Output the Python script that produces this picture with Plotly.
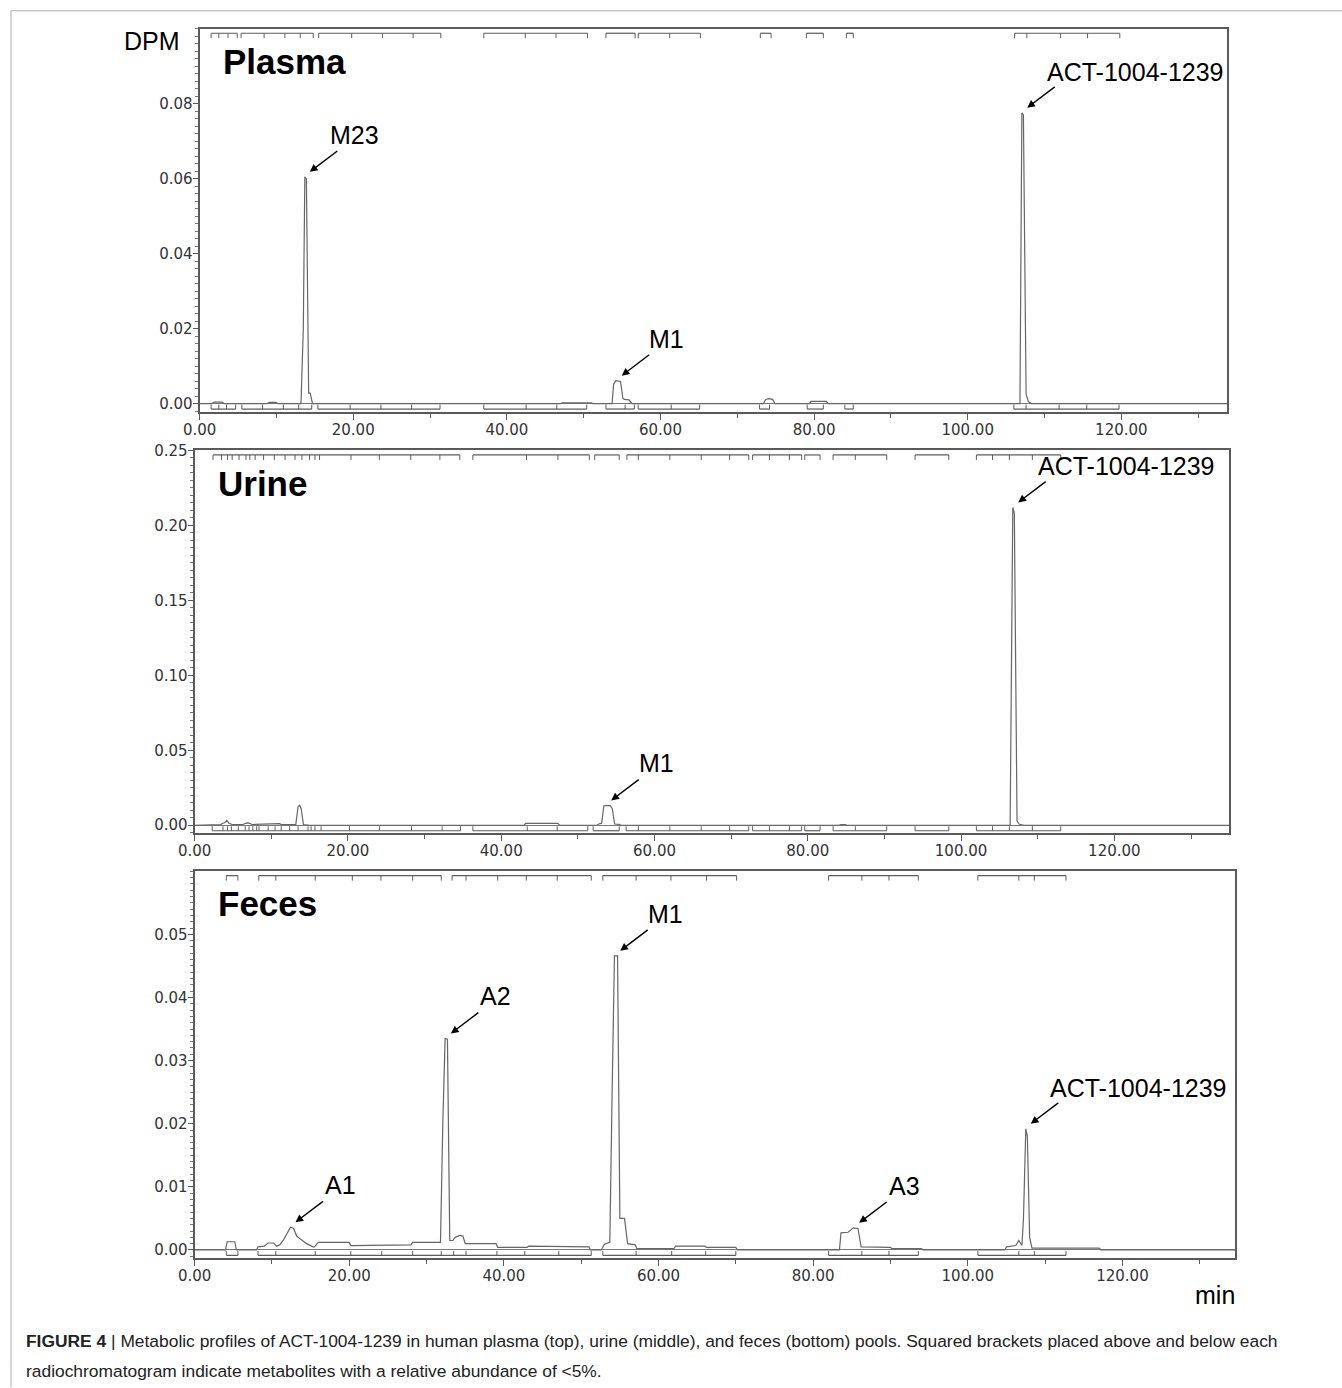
import numpy as np
import plotly.graph_objects as go

# ---------------- data ----------------
plasma_t = [0, 1.6, 1.9, 2.9, 3.2, 8.8, 9.1, 9.9, 10.2, 13.2, 13.5, 13.7, 13.9, 14.1, 14.2, 14.4, 14.7,
            47.0, 47.2, 51.0, 51.2, 53.7, 53.9, 54.2, 54.8, 55.1, 55.3, 55.9, 56.3,
            73.4, 73.7, 74.1, 74.6, 74.9, 79.4, 79.6, 81.6, 81.8,
            106.8, 107.05, 107.25, 107.6, 107.9, 108.3, 133.8]
plasma_v = [0, 0, 0.0004, 0.0004, 0, 0, 0.0003, 0.0003, 0, 0, 0.02, 0.0605, 0.0600, 0.01, 0.0028, 0.0028, 0,
            0, 0.0002, 0.0002, 0, 0, 0.0052, 0.0061, 0.0059, 0.0014, 0.0011, 0.0010, 0,
            0, 0.0011, 0.0013, 0.0011, 0, 0, 0.0006, 0.0006, 0,
            0, 0.0776, 0.0770, 0.0025, 0.0005, 0, 0]

urine_t = [0, 2.5, 2.7, 3.4, 3.6, 3.9, 4.2, 4.5, 4.9, 6.3, 6.8, 7.1, 7.5, 9.4, 9.6, 11.1, 11.3, 13.2,
           13.5, 13.7, 13.9, 14.2, 15.0, 43.0, 43.2, 47.4, 47.6, 52.5, 52.8, 53.1, 53.4, 54.2, 54.5,
           54.8, 55.4, 55.6, 84.0, 84.3, 84.9, 85.1, 106.4, 106.75, 106.95, 107.3, 107.6, 108.2, 135.0]
urine_v = [0, 0, 0.0004, 0.0004, 0.0012, 0.0016, 0.0032, 0.0012, 0.0005, 0.0005, 0.0016, 0.0014, 0.0005, 0.0005,
           0.0010, 0.0010, 0.0004, 0.0004, 0.0125, 0.0133, 0.0110, 0.0005, 0, 0, 0.0013, 0.0013, 0, 0, 0.0010,
           0.0012, 0.0130, 0.0132, 0.0110, 0.0008, 0.0006, 0, 0, 0.0005, 0.0005, 0,
           0, 0.2120, 0.2080, 0.0030, 0.0006, 0, 0]

feces_t = [0, 4.0, 4.2, 5.2, 5.4, 8.0, 8.2, 9.0, 9.5, 10.2, 10.6, 11.0, 11.5, 12.0, 12.4, 12.8, 13.2, 13.8,
           14.5, 15.3, 15.5, 16.0, 20.0, 20.2, 24.0, 24.2, 28.0, 28.2, 31.8, 32.1, 32.4, 32.7, 33.0, 33.4,
           33.7, 34.3, 34.7, 35.0, 39.0, 39.2, 43.0, 43.2, 47.0, 47.2, 51.0, 51.2, 52.6, 53.0, 53.7, 54.0,
           54.3, 54.7, 55.0, 55.6, 56.0, 57.0, 57.2, 62.0, 62.2, 66.0, 66.2, 70.0, 70.2, 83.4, 83.6, 84.5,
           85.2, 85.8, 86.2, 90.0, 90.2, 94.0, 94.2, 104.8, 105.0, 106.2, 106.6, 107.0, 107.2, 107.5,
           107.7, 108.0, 108.3, 117.0, 117.2, 134.6]
feces_v = [0, 0, 0.0013, 0.0013, 0, 0, 0.0005, 0.0006, 0.0011, 0.0011, 0.0006, 0.0008, 0.0016, 0.0028,
           0.0036, 0.0034, 0.0022, 0.0016, 0.0010, 0.0005, 0.0005, 0.0012, 0.0012, 0.0007, 0.0007, 0.0008,
           0.0008, 0.0012, 0.0012, 0.0200, 0.0335, 0.0334, 0.0015, 0.0015, 0.0020, 0.0023, 0.0022, 0.0010,
           0.0010, 0.0004, 0.0004, 0.0006, 0.0006, 0.0005, 0.0005, 0, 0, 0.0009, 0.0012, 0.0250, 0.0466,
           0.0466, 0.0050, 0.0050, 0.0010, 0.0008, 0.0002, 0.0002, 0.0006, 0.0006, 0.0004, 0.0004, 0, 0,
           0.0027, 0.0028, 0.0035, 0.0034, 0.0005, 0.0004, 0.0002, 0.0002, 0, 0, 0.0005, 0.0007, 0.0015,
           0.0007, 0.0050, 0.0192, 0.0180, 0.0020, 0.0003, 0.0003, 0, 0]

# bracket segments: tick positions (min) of each squared bracket
plasma_top = [[1.5, 2.5, 3.7, 4.9], [5.4, 8.4, 11.1, 13.1, 14.8], [15.5, 19.8, 23.8, 27.8, 31.4],
              [37.0, 42.4, 46.4, 50.5], [52.9, 56.7], [57.1, 61.2, 65.2], [73.0, 74.4], [79.0, 81.2],
              [84.2, 85.1], [106.1, 107.7, 112.1, 115.6, 119.8]]
plasma_bot = [[1.5, 2.5, 3.5, 4.7], [5.5, 8.2, 10.9, 12.9, 14.6], [15.4, 19.6, 23.6, 27.6, 31.3],
              [37.0, 42.5, 46.5, 50.4], [52.9, 55.4, 56.6], [57.1, 61.4, 65.1], [72.9, 74.2],
              [79.1, 81.2], [84.0, 85.1], [106.0, 107.6, 111.9, 115.5, 119.7]]
urine_top = [[2.4, 3.5, 4.3, 4.9, 5.8, 6.7, 7.2, 7.9, 9.0, 10.4, 11.8, 13.1, 14.0, 15.0, 15.7, 16.3,
              20.4, 24.1, 28.2, 32.0, 34.6], [36.3, 43.3, 47.4, 51.5], [52.2, 55.4],
             [56.4, 57.9, 62.0, 66.1, 69.8, 72.3], [72.8, 75.0, 77.6, 79.2], [79.6, 81.6],
             [83.3, 86.2, 90.3], [94.0, 98.4], [102.0, 104.1, 106.3, 109.3, 113.0]]
urine_bot = [[2.3, 3.7, 4.3, 4.8, 5.7, 6.6, 7.1, 7.6, 8.1, 8.4, 9.6, 10.5, 11.3, 12.4, 13.5, 14.8, 15.2,
              15.7, 16.5, 20.2, 24.1, 28.3, 32.3, 34.7], [36.3, 43.4, 47.3, 51.3], [52.0, 55.4],
             [56.3, 57.9, 62.0, 66.1, 69.8, 72.3], [72.8, 75.0, 77.6, 79.2], [79.6, 81.6],
             [83.3, 86.2, 90.3], [94.0, 98.4], [102.0, 104.1, 106.3, 109.3, 113.0]]
feces_top = [[4.1, 5.6], [8.3, 10.5, 15.6, 20.4, 24.1, 28.2, 31.9], [33.3, 35.1, 39.2, 42.9, 46.9, 51.3],
             [52.8, 57.1, 61.6, 66.2, 70.1], [82.0, 86.3, 89.8, 93.6], [101.3, 106.6, 108.6, 112.7]]
feces_bot = [[4.1, 5.6], [8.2, 10.5, 15.6, 20.2, 24.2, 28.2, 31.9, 33.5, 35.1, 39.1, 42.7, 47.1, 51.3],
             [52.8, 57.1, 61.7, 66.1, 70.0], [82.0, 86.3, 89.8, 93.6], [101.3, 106.6, 108.6, 112.7]]

# labelled peaks: (label, retention time)
plasma_peaks = [("M23", 13.7), ("M1", 54.3), ("ACT-1004-1239", 107.1)]
urine_peaks = [("M1", 53.7), ("ACT-1004-1239", 106.8)]
feces_peaks = [("A1", 12.4), ("A2", 32.5), ("M1", 54.4), ("A3", 85.3), ("ACT-1004-1239", 107.5)]

x_tick_vals = [0, 20, 40, 60, 80, 100, 120]
plasma_y_ticks = [0, 0.02, 0.04, 0.06, 0.08]
urine_y_ticks = [0, 0.05, 0.10, 0.15, 0.20, 0.25]
feces_y_ticks = [0, 0.01, 0.02, 0.03, 0.04, 0.05]

caption_1 = ("<b>FIGURE 4</b> | Metabolic profiles of ACT-1004-1239 in human plasma (top), urine (middle), "
             "and feces (bottom) pools. Squared brackets placed above and below each")
caption_2 = "radiochromatogram indicate metabolites with a relative abundance of &lt;5%."

# ---------------- layout helpers ----------------
W, H = 1342, 1388
# compensation for the capture transform observed in the previous renders
SX, OXc = 0.9895, 15.0
SY, OYc = 0.9935, 8.2


def px(X):
    return ((X - OXc) / SX) / W


def py(Y):
    return 1 - ((Y - OYc) / SY) / H


panels = [
    dict(name="Plasma", t=plasma_t, v=plasma_v, top=plasma_top, bot=plasma_bot, peaks=plasma_peaks,
         box=(198, 1228, 28, 411), xr=(0, 133.8), yr=(-0.00213, 0.1), yt=plasma_y_ticks, ym=0.002),
    dict(name="Urine", t=urine_t, v=urine_v, top=urine_top, bot=urine_bot, peaks=urine_peaks,
         box=(193, 1230, 450, 833), xr=(0, 135.0), yr=(-0.00533, 0.25), yt=urine_y_ticks, ym=0.005),
    dict(name="Feces", t=feces_t, v=feces_v, top=feces_top, bot=feces_bot, peaks=feces_peaks,
         box=(193, 1236, 871, 1258), xr=(0, 134.6), yr=(-0.00126, 0.06), yt=feces_y_ticks, ym=0.001),
]

fig = go.Figure()
shapes = []
annotations = []
tickfont = dict(family="DejaVu Sans", size=15, color="#333333")
frame_col = "#5a5a5a"
trace_col = "#666666"

for i, p in enumerate(panels):
    k = "" if i == 0 else str(i + 1)
    xa, ya = "x" + k, "y" + k
    X0, X1, Y0, Y1 = p["box"]
    hpx = (Y1 - Y0) / SY
    fig.add_trace(go.Scatter(x=p["t"], y=p["v"], mode="lines", xaxis=xa, yaxis=ya,
                             line=dict(color=trace_col, width=1.2), showlegend=False,
                             hoverinfo="skip"))
    fig.update_layout(**{
        "xaxis" + k: dict(domain=[px(X0), px(X1)], anchor=ya, range=list(p["xr"]),
                          tickvals=x_tick_vals, ticktext=[f"{v:.2f}" for v in x_tick_vals],
                          ticks="outside", ticklen=6, tickcolor=frame_col, tickwidth=1,
                          ticklabelstandoff=-3,
                          minor=dict(dtick=10, tick0=0, ticks="outside", ticklen=4, tickcolor=frame_col),
                          showline=True, linecolor=frame_col, linewidth=2, mirror=True,
                          showgrid=False, zeroline=False, tickfont=tickfont, fixedrange=True),
        "yaxis" + k: dict(domain=[py(Y1), py(Y0)], anchor=xa, range=list(p["yr"]),
                          tickvals=p["yt"], ticktext=[f"{v:.2f}" for v in p["yt"]],
                          ticks="outside", ticklen=5, tickcolor=frame_col, tickwidth=1,
                          ticklabelstandoff=-3,
                          minor=dict(dtick=p["ym"], tick0=0, ticks="outside", ticklen=3,
                                     tickcolor="#777777"),
                          showline=True, linecolor=frame_col, linewidth=2, mirror=True,
                          showgrid=False, zeroline=True, zerolinecolor="#777777", zerolinewidth=1,
                          tickfont=tickfont, fixedrange=True),
    })
    # squared brackets (top: hanging down; bottom: standing up)
    top_line = 1 - 4.5 / hpx
    top_tick = top_line - 5 / hpx
    bot_line = 2.5 / hpx
    bot_tick = bot_line + 4.5 / hpx
    ydom = ya + " domain"
    for seg in p["top"]:
        shapes.append(dict(type="line", xref=xa, yref=ydom, x0=seg[0], x1=seg[-1], y0=top_line, y1=top_line,
                           line=dict(color="#5c5c5c", width=1.2)))
        for tk in seg:
            shapes.append(dict(type="line", xref=xa, yref=ydom, x0=tk, x1=tk, y0=top_line, y1=top_tick,
                               line=dict(color="#5c5c5c", width=1)))
    for seg in p["bot"]:
        shapes.append(dict(type="line", xref=xa, yref=ydom, x0=seg[0], x1=seg[-1], y0=bot_line, y1=bot_line,
                           line=dict(color="#5c5c5c", width=1.2)))
        for tk in seg:
            shapes.append(dict(type="line", xref=xa, yref=ydom, x0=tk, x1=tk, y0=bot_line, y1=bot_tick,
                               line=dict(color="#5c5c5c", width=1)))
    # panel title
    annotations.append(dict(text="<b>%s</b>" % p["name"], xref="paper", yref=ya + " domain",
                            x=px(X0 + 21), y=1 - 33 / hpx, xanchor="left", yanchor="middle",
                            showarrow=False, font=dict(family="Liberation Sans", size=35, color="black")))
    # peak labels with arrows
    tt = np.array(p["t"], dtype=float)
    vv = np.array(p["v"], dtype=float)
    for lab, tc in p["peaks"]:
        h = float(vv[np.abs(tt - tc) <= 0.6].max())
        long = len(lab) > 4
        annotations.append(dict(text="", x=tc, y=h, xref=xa, yref=ya, xshift=5, yshift=5,
                                showarrow=True, ax=29, ay=-22, arrowhead=2, arrowsize=1.1,
                                arrowwidth=1.4, arrowcolor="black", standoff=0))
        annotations.append(dict(text=lab, x=tc, y=h, xref=xa, yref=ya,
                                xshift=113 if long else 50, yshift=41 if long else 42,
                                showarrow=False, font=dict(family="Liberation Sans", size=25, color="black")))

# axis name labels
annotations.append(dict(text="DPM", xref="paper", yref="paper", x=px(150), y=py(40), xanchor="center",
                        yanchor="middle", showarrow=False,
                        font=dict(family="Liberation Sans", size=25, color="black")))
annotations.append(dict(text="min", xref="paper", yref="paper", x=px(1216), y=py(1295), xanchor="center",
                        yanchor="middle", showarrow=False,
                        font=dict(family="Liberation Sans", size=25, color="black")))
# caption
annotations.append(dict(text=caption_1, xref="paper", yref="paper", x=px(22), y=py(1341), xanchor="left",
                        yanchor="middle", showarrow=False,
                        font=dict(family="Liberation Sans", size=17.4, color="#222222")))
annotations.append(dict(text=caption_2, xref="paper", yref="paper", x=px(22), y=py(1371), xanchor="left",
                        yanchor="middle", showarrow=False,
                        font=dict(family="Liberation Sans", size=17.4, color="#222222")))
# outer figure frame (left and top)
shapes.append(dict(type="line", xref="paper", yref="paper", x0=px(9), x1=px(9), y0=0, y1=py(10),
                   line=dict(color="#aaaaaa", width=1)))
shapes.append(dict(type="line", xref="paper", yref="paper", x0=px(9), x1=1, y0=py(10), y1=py(10),
                   line=dict(color="#aaaaaa", width=1)))

fig.update_layout(width=W, height=H, margin=dict(l=0, r=0, t=0, b=0), paper_bgcolor="white",
                  plot_bgcolor="white", shapes=shapes, annotations=annotations, showlegend=False)
fig.write_html("out.html", config={"displayModeBar": False},
               post_script="document.body.style.margin='0';document.body.style.overflow='hidden';")
